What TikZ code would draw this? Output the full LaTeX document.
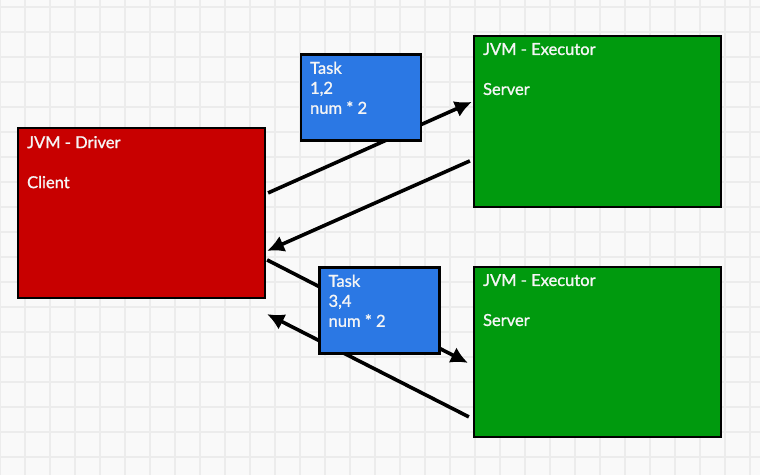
\documentclass[tikz,border=0pt]{standalone}
\usepackage{fontspec}
\setmainfont{Lato}
\newfontfamily\boxfont{Lato}[FakeBold=1.2]
\usepackage{tikz}
\usetikzlibrary{positioning,arrows.meta,calc,backgrounds}
\definecolor{driverred}{HTML}{C80000}
\definecolor{execgreen}{HTML}{009A0E}
\definecolor{taskblue}{HTML}{2B78E4}
\definecolor{paper}{HTML}{F9F9F9}
\definecolor{gridline}{HTML}{ECECEC}

\begin{document}
\begin{tikzpicture}[
  x=1pt, y=-1pt,
  font=\boxfont\fontsize{16.5}{20}\selectfont,
  jvm/.style={draw=black, line width=2.2pt, inner sep=0pt,
              minimum width=247pt, minimum height=170pt},
  task/.style={draw=black, fill=taskblue, line width=2.2pt, inner sep=0pt,
               minimum width=120pt, minimum height=86pt},
  txt/.style={anchor=north west, inner sep=0pt, align=left, text=white!96!black},
  call/.style={-{Latex[length=17pt,width=17pt]}, draw=black, line width=3.6pt},
]
% Paper with the grid behind everything.
\useasboundingbox (0,0) rectangle (760,475);
\fill[paper] (0,0) rectangle (760,475);
\foreach \x in {0,25,...,750} {
  \draw[gridline, line width=1.2pt] (\x,0) -- (\x,475);
}
\foreach \y in {7,32,...,475} {
  \draw[gridline, line width=1.2pt] (0,\y) -- (760,\y);
}

% Driver on the left, two executors on the right.
\node[jvm, fill=driverred] (driver) at (141.5,213) {};
\node[txt] at ($(driver.north west)+(10,9)$) {JVM - Driver\\[20pt]Client};
\node[jvm, fill=execgreen, minimum height=171pt] (exec1) at (597.5,121.5) {};
\node[txt] at ($(exec1.north west)+(10,8)$) {JVM - Executor\\[20pt]Server};
\node[jvm, fill=execgreen] (exec2) at (597.5,352) {};
\node[txt] at ($(exec2.north west)+(10,8)$) {JVM - Executor\\[20pt]Server};

% Tasks go out, results come back.
\draw[call] ($(driver.north east)+(2,66)$) -- ($(exec1.north west)+(-1,67)$);
\draw[call] ($(exec1.north west)+(-3,126)$) -- ($(driver.north east)+(1,124)$);
\draw[call] ($(driver.north east)+(1,133)$) -- ($(exec2.north west)+(-5,97)$);
\draw[call] ($(exec2.north west)+(-4,151)$) -- ($(driver.south east)+(1,15)$);

% The task payloads sit on top of the outgoing arrows.
\node[task] (task1) at (361,97.5) {};
\node[txt] at ($(task1.north west)+(10,8)$) {Task\\1,2\\num * 2};
\node[task] (task2) at (379.5,310.5) {};
\node[txt] at ($(task2.north west)+(10,8)$) {Task\\3,4\\num * 2};
\end{tikzpicture}
\end{document}
